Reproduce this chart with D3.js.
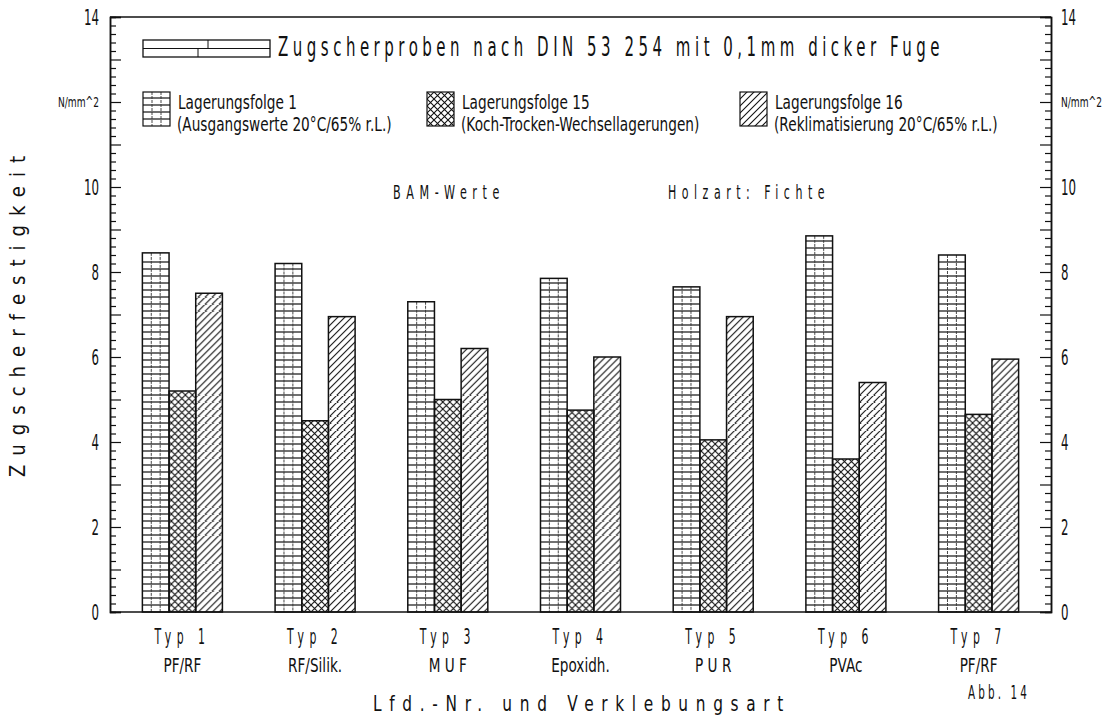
<!DOCTYPE html>
<html>
<head>
<meta charset="utf-8">
<script src="https://cdn.jsdelivr.net/npm/d3@7"></script>
<style>
  body { margin: 0; background: #fff; }
  svg text { font-family: 'DejaVu Sans', 'Liberation Sans', sans-serif; fill: #111; }
</style>
</head>
<body>
<div id="chart"></div>
<script>
// categories and second label line
var categories = ['Typ 1', 'Typ 2', 'Typ 3', 'Typ 4', 'Typ 5', 'Typ 6', 'Typ 7'];
var glueTypes = ['PF/RF', 'RF/Silik.', 'M U F', 'Epoxidh.', 'P U R', 'PVAc', 'PF/RF'];

// series values (N/mm^2)
var seriesNames = ['Lagerungsfolge 1', 'Lagerungsfolge 15', 'Lagerungsfolge 16'];
var seriesNotes = ['(Ausgangswerte 20°C/65% r.L.)', '(Koch-Trocken-Wechsellagerungen)', '(Reklimatisierung 20°C/65% r.L.)'];
var folge1  = [8.45, 8.2, 7.3, 7.85, 7.65, 8.85, 8.4];
var folge15 = [5.2, 4.5, 5.0, 4.75, 4.05, 3.6, 4.65];
var folge16 = [7.5, 6.95, 6.2, 6.0, 6.95, 5.4, 5.95];

// y tick labels (12 is replaced by the unit)
var yTickValues = [0, 2, 4, 6, 8, 10, 12, 14];
var yTickLabels = ['0', '2', '4', '6', '8', '10', 'N/mm^2', '14'];

var W = 1111, H = 719;
var plotL = 110, plotR = 1051, plotT = 17, plotB = 612;
var gridStep = 7;

var svg = d3.select('#chart').append('svg')
    .attr('width', W).attr('height', H);

var x0 = d3.scaleBand().domain(categories).range([plotL, plotR])
    .paddingInner(0.397).paddingOuter(0.244);
var x1 = d3.scaleBand().domain(seriesNames).range([0, x0.bandwidth()]);
var y = d3.scaleLinear().domain([0, 14]).range([plotB, plotT]);

var keys = ['grid', 'cross', 'hatch'];
var values = [folge1, folge15, folge16];

var defs = svg.append('defs');

// diagonal fills, one pattern per bar origin so they line up with the bar
function makePattern(kind, id, ox, oy) {
  var s = 7;
  var p = defs.append('pattern').attr('id', id).attr('patternUnits', 'userSpaceOnUse')
    .attr('x', Math.round(ox)).attr('y', Math.round(oy)).attr('width', s).attr('height', s);
  var d = kind === 'cross'
    ? 'M0,0L' + s + ',' + s + 'M0,' + s + 'L' + s + ',0'
    : 'M0,' + s + 'L' + s + ',0M-1,1L1,-1M' + (s - 1) + ',' + (s + 1) + 'L' + (s + 1) + ',' + (s - 1);
  p.append('path').attr('d', d).attr('stroke', '#111').attr('stroke-width', 1.1);
}

categories.forEach(function(c, i) {
  keys.forEach(function(k, j) {
    if (k !== 'grid') makePattern(k, k + '-' + i, x0(c) + x1(seriesNames[j]), plotB);
  });
});

// grid fill drawn as real lines inside a box
function drawGrid(g, x, yTop, w, yBot) {
  d3.range(yBot - gridStep, yTop + 2.5, -gridStep).forEach(function(yy) {
    g.append('line').attr('x1', x).attr('x2', x + w).attr('y1', yy).attr('y2', yy)
      .attr('stroke', '#111').attr('stroke-width', 1.2);
  });
  [1, 2].forEach(function(n) {
    g.append('line').attr('x1', x + w * n / 3).attr('x2', x + w * n / 3).attr('y1', yTop).attr('y2', yBot)
      .attr('stroke', '#333').attr('stroke-width', 0.9).attr('stroke-dasharray', '3,1');
  });
}

// narrow "plotter" text: glyphs squeezed to a length, optional letter gaps
function addText(g, x, yy, str, size, len, anchor, gap) {
  var t = g.append('text').attr('x', x).attr('y', yy)
    .attr('font-size', size).attr('text-anchor', anchor || 'start').text(str);
  if (gap) t.style('letter-spacing', gap + 'em');
  if (len) t.attr('textLength', len).attr('lengthAdjust', 'spacingAndGlyphs');
  return t;
}
// same, but squeezed by a factor of its natural width
function addSqueezed(g, x, yy, str, size, k, anchor) {
  var t = addText(g, x, yy, str, size, null, anchor);
  var w = t.node().getComputedTextLength();
  t.attr('textLength', w * k).attr('lengthAdjust', 'spacingAndGlyphs');
  return t;
}

// bars
var group = svg.selectAll('.group')
  .data(categories)
  .enter().append('g')
    .attr('class', 'group')
    .attr('transform', function(d) { return 'translate(' + x0(d) + ',0)'; });

var barData = function(d, i) {
  return seriesNames.map(function(s, j) { return {key: s, k: keys[j], i: i, value: values[j][i]}; });
};

group.each(function(d, i) {
  var g = d3.select(this);
  barData(d, i).forEach(function(b) {
    if (b.k === 'grid') drawGrid(g, x1(b.key), y(b.value), x1.bandwidth(), y(0));
  });
});

group.selectAll('rect')
  .data(barData)
  .enter().append('rect')
    .attr('x', function(d) { return x1(d.key); })
    .attr('y', function(d) { return y(d.value); })
    .attr('width', x1.bandwidth())
    .attr('height', function(d) { return y(0) - y(d.value); })
    .attr('fill', function(d) { return d.k === 'grid' ? 'none' : 'url(#' + d.k + '-' + d.i + ')'; })
    .attr('stroke', '#111').attr('stroke-width', 1.5);

// inward ticks on both vertical axes
function tickAxis(axis, xPos, size, vals) {
  svg.append('g').attr('transform', 'translate(' + xPos + ',0)')
    .call(axis(y).tickValues(vals).tickSize(size).tickFormat(''))
    .call(function(g) {
      g.select('.domain').attr('stroke', '#111').attr('stroke-width', 1.5);
      g.selectAll('.tick line').attr('stroke', '#111').attr('stroke-width', 1.2);
    });
}
var minor = d3.range(0, 70).map(function(i) { return i * 0.2; }).filter(function(v) { return Math.abs(v - Math.round(v)) > 0.01; });
var major = d3.range(0, 15);
tickAxis(d3.axisRight, plotL, 6, minor);
tickAxis(d3.axisRight, plotL, 11, major);
tickAxis(d3.axisLeft, plotR, 6, minor);
tickAxis(d3.axisLeft, plotR, 11, major);

// tick labels
function labelAxis(axis, xPos, pad) {
  svg.append('g').attr('transform', 'translate(' + xPos + ',0)')
    .call(axis(y).tickValues(yTickValues).tickSize(0).tickPadding(pad)
      .tickFormat(function(d, i) { return yTickLabels[i]; }))
    .call(function(g) {
      g.select('.domain').remove();
      g.selectAll('text').attr('font-size', 21).attr('font-family', null).attr('fill', '#111')
        .attr('dy', '0.35em')
        .attr('textLength', function(d, i) { return d === 12 ? 41 : 7.5 * yTickLabels[i].length; })
        .attr('lengthAdjust', 'spacingAndGlyphs')
        .filter(function(d) { return d === 12; }).attr('font-size', 14);
    });
}
labelAxis(d3.axisLeft, plotL, 11);
labelAxis(d3.axisRight, plotR, 10);

// top frame and x axis
svg.append('line').attr('x1', plotL).attr('x2', plotR).attr('y1', plotT).attr('y2', plotT)
  .attr('stroke', '#111').attr('stroke-width', 1.5);
var xAxis = svg.append('g').attr('transform', 'translate(0,' + plotB + ')')
  .call(d3.axisBottom(x0).tickSize(0).tickPadding(0).tickFormat(''));
xAxis.select('.domain').attr('d', 'M' + plotL + ',0H' + plotR).attr('stroke', '#111').attr('stroke-width', 1.5);
xAxis.selectAll('.tick').each(function(d, i) {
  var g = d3.select(this);
  addText(g, 0, 32, d, 21, 56, 'middle', 0.5);
  addSqueezed(g, 0, 60, glueTypes[i], 20, 0.68, 'middle');
});

// header: specimen symbol and title
var hdr = svg.append('g');
hdr.append('rect').attr('x', 143).attr('y', 40).attr('width', 127).attr('height', 17)
  .attr('fill', 'none').attr('stroke', '#111').attr('stroke-width', 1.3);
hdr.append('line').attr('x1', 143).attr('x2', 270).attr('y1', 48.5).attr('y2', 48.5).attr('stroke', '#111').attr('stroke-width', 1.2);
hdr.append('line').attr('x1', 208).attr('x2', 208).attr('y1', 40).attr('y2', 48.5).attr('stroke', '#111').attr('stroke-width', 1);
hdr.append('line').attr('x1', 198).attr('x2', 198).attr('y1', 48.5).attr('y2', 57).attr('stroke', '#111').attr('stroke-width', 1);
addText(hdr, 278, 56, 'Zugscherproben nach DIN 53 254 mit 0,1mm dicker Fuge', 26, 666, 'start', 0.3);

// legend
var legX = [143, 427, 740];
seriesNames.forEach(function(s, j) {
  var g = svg.append('g');
  if (j === 0) {
    drawGrid(g, legX[j], 92, 27, 126);
  } else {
    makePattern(keys[j], 'leg-' + j, legX[j], 92);
  }
  g.append('rect').attr('x', legX[j]).attr('y', 92).attr('width', 27).attr('height', 34)
    .attr('fill', j === 0 ? 'none' : 'url(#leg-' + j + ')').attr('stroke', '#111').attr('stroke-width', 1.2);
  addSqueezed(g, legX[j] + 35, 109, s, 19, 0.72);
  addSqueezed(g, legX[j] + 34, 131, seriesNotes[j], 19, 0.72);
});

// annotations
addText(svg, 393, 199, 'BAM-Werte', 20, 112, 'start', 0.5);
addText(svg, 668, 199, 'Holzart: Fichte', 20, 162, 'start', 0.5);

// axis titles
addText(svg, 0, 0, 'Zugscherfestigkeit', 21, 330, 'middle', 0.5)
  .attr('transform', 'translate(25,312) rotate(-90)');
addText(svg, 373, 711, 'Lfd.-Nr. und Verklebungsart', 21, 418, 'start', 0.5);
addText(svg, 968, 699, 'Abb. 14', 20, 62, 'start', 0.3);
</script>
</body>
</html>
